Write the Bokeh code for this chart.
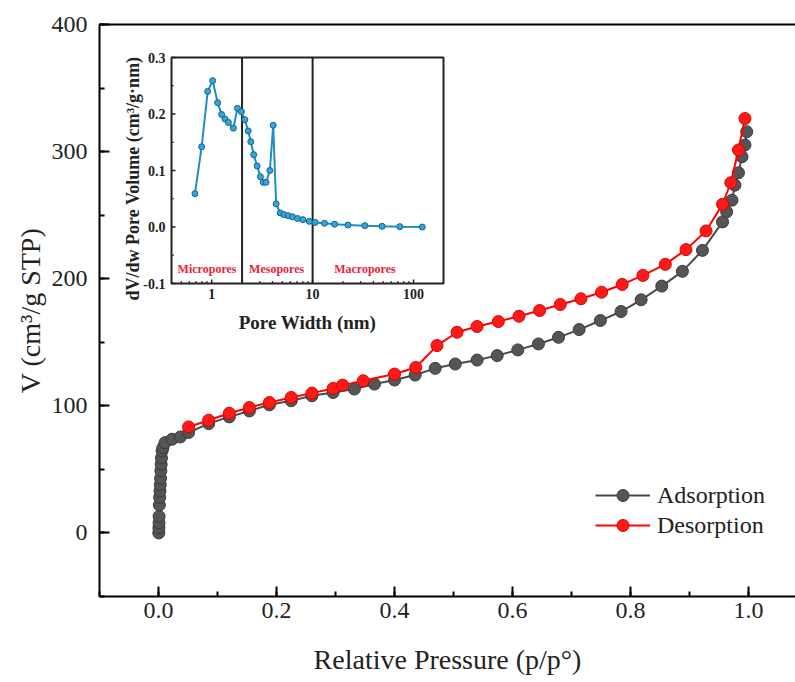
import math
from bokeh.plotting import figure
from bokeh.models import (Range1d, LogScale, LinearAxis, SingleIntervalTicker,
                          FixedTicker, Legend, LegendItem, NumeralTickFormatter)
from bokeh.core.properties import value
from bokeh.embed import file_html
from bokeh.resources import INLINE

# ---------------- data: main isotherm ----------------
ads_p = [0.0005, 0.0007, 0.0009, 0.001, 0.0015, 0.002, 0.0025, 0.003, 0.0035, 0.004,
         0.0045, 0.005, 0.006, 0.0075, 0.011, 0.023, 0.037, 0.051, 0.085, 0.120,
         0.154, 0.188, 0.225, 0.260, 0.296, 0.332, 0.366, 0.400, 0.435, 0.469,
         0.503, 0.540, 0.574, 0.609, 0.644, 0.678, 0.713, 0.749, 0.784, 0.818,
         0.853, 0.888, 0.922, 0.956, 0.963, 0.972, 0.977, 0.983, 0.989, 0.994, 0.997]
ads_v = [0, 4, 8, 13, 22, 28, 33, 38, 43, 49,
         54, 59, 64.5, 67, 71, 73.7, 75.5, 79, 86, 91.3,
         96, 100.8, 104, 107.9, 110.5, 113.2, 117.1, 120.3, 124.2, 129.5,
         132.9, 136, 139.5, 144, 148.7, 153.9, 160, 167.1, 174.2, 183.4,
         194.2, 205.8, 222.3, 244.7, 252.6, 261.8, 273.6, 283.3, 296, 305.2, 315.7]

des_p = [0.051, 0.085, 0.120, 0.154, 0.188, 0.225, 0.260, 0.296, 0.312, 0.347,
         0.400, 0.436, 0.472, 0.506, 0.540, 0.576, 0.611, 0.646, 0.681, 0.716,
         0.751, 0.786, 0.821, 0.859, 0.894, 0.928, 0.956, 0.970, 0.983, 0.994]
des_v = [83.4, 88.7, 94.2, 98.7, 102.6, 106.6, 110.0, 113.7, 116.3, 119.7,
         125.0, 130.2, 147.4, 157.9, 162.4, 166.3, 170.5, 175.0, 179.7, 184.2,
         189.4, 195.5, 202.6, 211.3, 222.9, 237.6, 258.6, 275.5, 301.3, 326.0]

series_names = ["Adsorption", "Desorption"]

# ---------------- data: inset pore size distribution ----------------
pore_w = [0.683, 0.796, 0.913, 1.023, 1.147, 1.257, 1.357, 1.464, 1.64, 1.80,
          1.97, 2.13, 2.30, 2.44, 2.61, 2.82, 3.04, 3.24, 3.46, 3.77,
          4.07, 4.35, 4.77, 5.19, 5.73, 6.33, 7.10, 8.02, 9.27, 10.6,
          13.1, 16.5, 22.4, 32.9, 48.8, 73.1, 122.0]
pore_dv = [0.059, 0.142, 0.240, 0.259, 0.220, 0.199, 0.191, 0.185, 0.175, 0.210,
           0.204, 0.190, 0.170, 0.151, 0.128, 0.108, 0.089, 0.079, 0.079, 0.100,
           0.180, 0.041, 0.025, 0.022, 0.020, 0.018, 0.015, 0.013, 0.010, 0.008,
           0.0065, 0.005, 0.0035, 0.0024, 0.0012, 0.0006, 0.0]

x_tick_vals = [0.0, 0.2, 0.4, 0.6, 0.8, 1.0]
y_tick_vals = [0, 100, 200, 300, 400]
inset_y_ticks = [-0.1, 0.0, 0.1, 0.2, 0.3]
inset_y_labels = ["-0.1", "0.0", "0.1", "0.2", "0.3"]
inset_y_minor = [-0.05, 0.05, 0.15, 0.25]
inset_x_ticks = [1, 10, 100]
inset_x_labels = ["1", "10", "100"]
inset_x_minor = [0.5, 0.6, 0.7, 0.8, 0.9, 2, 3, 4, 5, 6, 7, 8, 9,
                 20, 30, 40, 50, 60, 70, 80, 90]
pore_bounds = [2, 10]
region_names = ["Micropores", "Mesopores", "Macropores"]
region_x = [0.9, 4.4, 33]

# ---------------- layout ----------------
W, H = 795, 682
FL, FR, FT, FB = 99, 795, 24, 596
PX_PER_UNIT = 590.0
X0 = -0.1
X1 = X0 + (FR - FL) / PX_PER_UNIT
SERIF = "Liberation Serif"

p = figure(width=W, height=H, x_range=Range1d(X0, X1), y_range=Range1d(-50, 400),
           output_backend="svg", toolbar_location=None,
           min_border_left=FL, min_border_right=W - FR, min_border_top=FT,
           min_border_bottom=H - FB)
p.xgrid.visible = False
p.ygrid.visible = False
p.outline_line_color = None
p.background_fill_color = "white"
p.border_fill_color = "white"

xa = p.xaxis[0]
ya = p.yaxis[0]
xa.ticker = SingleIntervalTicker(interval=0.2, num_minor_ticks=2)
ya.ticker = SingleIntervalTicker(interval=100, num_minor_ticks=2)
xa.formatter = NumeralTickFormatter(format="0.0")
ya.formatter = NumeralTickFormatter(format="0")
xa.axis_label = "Relative Pressure (p/p\u00b0)"
ya.axis_label = "V (cm\u00b3/g STP)"
for ax in (xa, ya):
    ax.axis_line_width = 2
    ax.axis_line_color = "black"
    ax.major_tick_in = 10
    ax.major_tick_out = 0
    ax.minor_tick_in = 5
    ax.minor_tick_out = 0
    ax.major_tick_line_width = 2
    ax.minor_tick_line_width = 2
    ax.major_tick_line_color = "black"
    ax.minor_tick_line_color = "black"
    ax.major_label_text_font = SERIF
    ax.major_label_text_font_size = "24px"
    ax.major_label_text_color = "#222222"
    ax.axis_label_text_font = SERIF
    ax.axis_label_text_font_size = "28px"
    ax.axis_label_text_font_style = "normal"
    ax.axis_label_text_color = "#222222"
xa.major_label_standoff = 6
xa.axis_label_standoff = 23
ya.major_label_standoff = 12
ya.axis_label_standoff = 3

top = LinearAxis(ticker=FixedTicker(ticks=[]), axis_line_width=2, axis_line_color="black",
                 major_tick_in=0, major_tick_out=0, minor_tick_in=0, minor_tick_out=0,
                 major_label_text_font_size="0px")
p.add_layout(top, "above")

# ---------------- main series ----------------
ads_line = p.line(ads_p, ads_v, line_color="#4a4a4a", line_width=2)
ads_pts = p.scatter(ads_p, ads_v, size=12, fill_color="#555555", line_color="#3a3a3a",
                    line_width=1)
des_line = p.line(des_p, des_v, line_color="#ff0000", line_width=2)
des_pts = p.scatter(des_p, des_v, size=12, fill_color="#ff1a1a", line_color="#e00000",
                    line_width=1)

legend = Legend(items=[LegendItem(label=series_names[0], renderers=[ads_line, ads_pts]),
                       LegendItem(label=series_names[1], renderers=[des_line, des_pts])],
                location=(496, 56), glyph_width=55, glyph_height=30, label_height=30,
                label_standoff=7, padding=0, margin=0, spacing=0,
                background_fill_alpha=0, border_line_color=None,
                label_text_font=SERIF, label_text_font_size="24px",
                label_text_color="#222222")
p.add_layout(legend)

# ---------------- inset (drawn on extra ranges) ----------------
IL, IR, IT, IB = 171, 443, 57, 283
IX0, IX1 = 0.4, 198.0
IY0, IY1 = -0.1, 0.3
lx0, lx1 = math.log10(IX0), math.log10(IX1)
dpp = (lx1 - lx0) / (IR - IL)
ypp = (IY1 - IY0) / (IB - IT)
p.extra_x_ranges = {"ins": Range1d(10 ** (lx0 - (IL - FL) * dpp), 10 ** (lx1 + (FR - IR) * dpp))}
p.extra_x_scales = {"ins": LogScale()}
p.extra_y_ranges = {"ins": Range1d(IY0 - (FB - IB) * ypp, IY1 + (IT - FT) * ypp)}
R = dict(x_range_name="ins", y_range_name="ins")

p.quad(left=[IX0], right=[IX1], bottom=[IY0], top=[IY1], fill_color="white",
       line_color="#222222", line_width=2, **R)
p.segment(x0=pore_bounds, x1=pore_bounds, y0=[IY0] * len(pore_bounds),
          y1=[IY1] * len(pore_bounds), line_color="#222222", line_width=2, **R)

# inset ticks
maj_len, min_len = 4, 2.5
p.segment(x0=[IX0] * len(inset_y_ticks), x1=[IX0 * 10 ** (maj_len * dpp)] * len(inset_y_ticks),
          y0=inset_y_ticks, y1=inset_y_ticks, line_color="#222222", line_width=1.5, **R)
p.segment(x0=[IX0] * len(inset_y_minor), x1=[IX0 * 10 ** (min_len * dpp)] * len(inset_y_minor),
          y0=inset_y_minor, y1=inset_y_minor, line_color="#222222", line_width=1.2, **R)
p.segment(x0=inset_x_ticks, x1=inset_x_ticks, y0=[IY0] * len(inset_x_ticks),
          y1=[IY0 + maj_len * ypp] * len(inset_x_ticks), line_color="#222222", line_width=1.5, **R)
p.segment(x0=inset_x_minor, x1=inset_x_minor, y0=[IY0] * len(inset_x_minor),
          y1=[IY0 + min_len * ypp] * len(inset_x_minor), line_color="#222222", line_width=1.2, **R)

# inset data
p.line(pore_w, pore_dv, line_color="#1f8cc4", line_width=2, **R)
p.scatter(pore_w, pore_dv, size=6, fill_color="#35a6d6", line_color="#11628f",
          line_width=1, **R)

# inset texts
bold = dict(text_font=value(SERIF), text_font_style="bold", text_color="#222222")
p.text(x=[IX0] * len(inset_y_ticks), y=inset_y_ticks, text=inset_y_labels, x_offset=-6,
       text_align="right", text_baseline="middle", text_font_size="14px", **bold, **R)
p.text(x=inset_x_ticks, y=[IY0] * len(inset_x_ticks), text=inset_x_labels, y_offset=5,
       text_align="center", text_baseline="top", text_font_size="14px", **bold, **R)
p.text(x=[math.sqrt(IX0 * IX1)], y=[IY0], text=["Pore Width (nm)"], y_offset=39,
       text_align="center", text_baseline="middle", text_font_size="19px", **bold, **R)
p.text(x=[IX0], y=[(IY0 + IY1) / 2], text=["dV/dw Pore Volume (cm\u00b3/g\u00b7nm)"],
       x_offset=-39, y_offset=8, angle=math.pi / 2, text_align="center",
       text_baseline="middle", text_font_size="18px", **bold, **R)
p.text(x=region_x, y=[IY0] * len(region_x), text=region_names, y_offset=-15,
       text_align="center", text_baseline="middle", text_font_size="12px",
       text_font=value(SERIF), text_font_style="bold", text_color="#f0203c", **R)

open("out.html", "w").write(file_html(p, INLINE))
